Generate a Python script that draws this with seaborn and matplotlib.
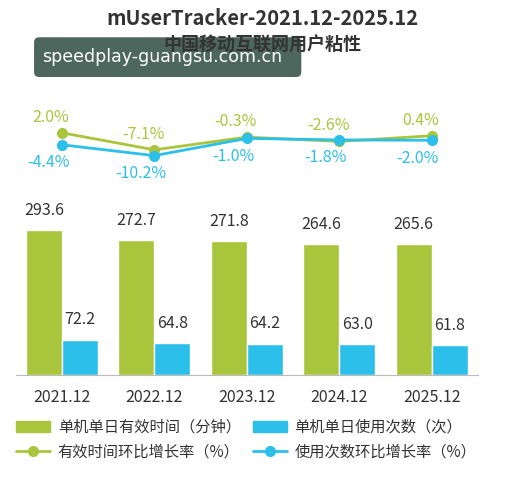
import matplotlib
matplotlib.use("Agg")
import matplotlib.pyplot as plt
import seaborn as sns
import pandas as pd
from matplotlib.lines import Line2D
from matplotlib.patches import Patch, FancyBboxPatch

years = ["2021.12", "2022.12", "2023.12", "2024.12", "2025.12"]
time_min = [293.6, 272.7, 271.8, 264.6, 265.6]
use_cnt = [72.2, 64.8, 64.2, 63.0, 61.8]
time_rate = [2.0, -7.1, -0.3, -2.6, 0.4]
cnt_rate = [-4.4, -10.2, -1.0, -1.8, -2.0]

GREEN = "#a9c53b"
BLUE = "#2cbfe9"
sns.set_style("white")
plt.rcParams['font.family'] = ['Noto Sans CJK SC', 'DejaVu Sans']

fig = plt.figure(figsize=(5.24, 4.97), dpi=100)

# bars
ax = fig.add_axes([0.03, 0.245, 0.882, 0.362])
df = pd.DataFrame({"year": years * 2, "val": time_min + use_cnt,
                   "kind": ["t"] * 5 + ["c"] * 5})
sns.barplot(data=df, x="year", y="val", hue="kind", palette=[GREEN, BLUE],
            width=0.78, ax=ax, legend=False, saturation=1)
ax.set_ylim(0, 364)
for c in ax.containers:
    ax.bar_label(c, fmt="%.1f", padding=8, fontsize=11.5, color="#333333")
ax.set_xlabel("")
ax.set_ylabel("")
ax.set_yticks([])
sns.despine(ax=ax, left=True)
ax.spines["bottom"].set_color("#bbbbbb")
ax.tick_params(axis="x", length=0, labelsize=11.5, pad=10, colors="#333333")

# lines
lx = fig.add_axes([0.03, 0.648, 0.882, 0.121])
xs = range(len(years))
sns.lineplot(x=list(xs), y=time_rate, color=GREEN, marker="o", markersize=8,
             linewidth=2, ax=lx, markeredgewidth=0)
sns.lineplot(x=list(xs), y=cnt_rate, color=BLUE, marker="o", markersize=8,
             linewidth=2, ax=lx, markeredgewidth=0)
lx.set_xlim(-0.5, 4.5)
lx.set_ylim(-20.5, 11.6)
for i in xs:
    lx.annotate(f"{time_rate[i]:.1f}%", (i, time_rate[i]), xytext=(-8, 8),
                textcoords="offset points", ha="center", fontsize=11.5, color=GREEN)
    lx.annotate(f"{cnt_rate[i]:.1f}%", (i, cnt_rate[i]), xytext=(-10, -16),
                textcoords="offset points", ha="center", fontsize=11.5, color=BLUE)
lx.axis("off")

fig.text(0.5, 0.95, "mUserTracker-2021.12-2025.12", ha="center", fontsize=14.5,
         fontweight="bold", color="#333333")
fig.text(0.5, 0.898, "中国移动互联网用户粘性", ha="center", fontsize=13,
         fontweight="bold", color="#333333")
fig.patches.append(FancyBboxPatch((0.075, 0.855), 0.49, 0.06,
                                  boxstyle="round,pad=0.01", transform=fig.transFigure,
                                  facecolor="#3f5a50", alpha=0.92, edgecolor="none"))
fig.text(0.08, 0.885, "speedplay-guangsu.com.cn", fontsize=12.5, color="white",
         va="center", family=["DejaVu Sans"])

handles = [Patch(color=GREEN),
           Line2D([], [], color=GREEN, marker="o", lw=2, markersize=7),
           Patch(color=BLUE),
           Line2D([], [], color=BLUE, marker="o", lw=2, markersize=7)]
labels = ["单机单日有效时间（分钟）", "有效时间环比增长率（%）",
          "单机单日使用次数（次）", "使用次数环比增长率（%）"]
fig.legend(handles, labels, ncol=2, loc="center", bbox_to_anchor=(0.47, 0.115),
           frameon=False, fontsize=11, handlelength=2.2, columnspacing=0.8,
           handletextpad=0.5, labelcolor="#333333")

fig.savefig("out.png", dpi=100)
